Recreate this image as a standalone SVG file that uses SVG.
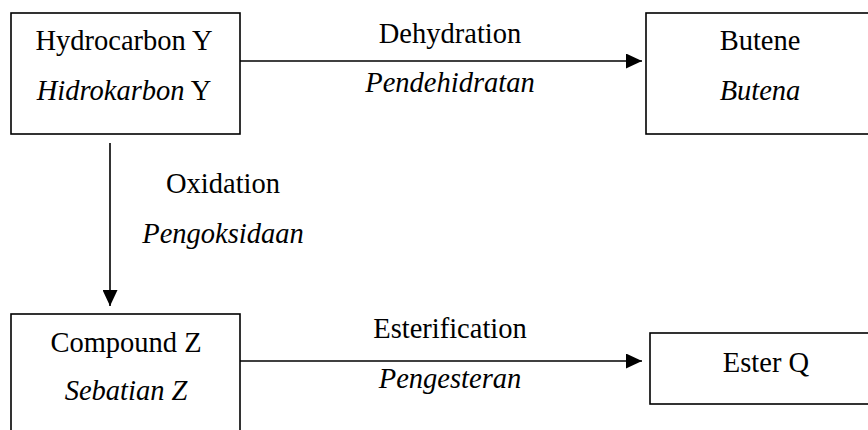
<svg xmlns="http://www.w3.org/2000/svg" width="868" height="430" viewBox="0 0 868 430">
<style>
.box{fill:#fff;stroke:#000;stroke-width:1.6}
.t{font-family:"Liberation Serif","Times New Roman",serif;font-size:28.5px;fill:#000;text-anchor:middle}
.i{font-style:italic}
.c{stroke:#000;stroke-width:1.6;fill:none}
</style>
<defs>
<marker id="ah" markerUnits="userSpaceOnUse" markerWidth="16" markerHeight="15" refX="16" refY="7.5" orient="auto">
<path d="M0,0 L16,7.5 L0,15 z" fill="#000"/>
</marker>
</defs>
<rect width="868" height="430" fill="#fff"/>
<g id="connectors">
<line class="c" x1="240" y1="61" x2="642" y2="61" marker-end="url(#ah)"/>
<line class="c" x1="110" y1="143" x2="110" y2="306" marker-end="url(#ah)"/>
<line class="c" x1="240" y1="361" x2="642" y2="361" marker-end="url(#ah)"/>
<text class="t" x="450" y="43">Dehydration</text>
<text class="t i" x="450" y="92">Pendehidratan</text>
<text class="t" x="223" y="193">Oxidation</text>
<text class="t i" x="223" y="243">Pengoksidaan</text>
<text class="t" x="450" y="338">Esterification</text>
<text class="t i" x="450" y="388">Pengesteran</text>
</g>
<g id="hydrocarbonY">
<rect class="box" x="11" y="13" width="229" height="121"/>
<text class="t" x="124" y="50">Hydrocarbon Y</text>
<text class="t" x="124" y="100"><tspan class="i">Hidrokarbon</tspan> Y</text>
</g>
<g id="butene">
<rect class="box" x="646" y="13" width="230" height="121"/>
<text class="t" x="760" y="50">Butene</text>
<text class="t i" x="760" y="100">Butena</text>
</g>
<g id="compoundZ">
<rect class="box" x="11" y="314" width="229" height="130"/>
<text class="t" x="126" y="352">Compound Z</text>
<text class="t i" x="126" y="400">Sebatian Z</text>
</g>
<g id="esterQ">
<rect class="box" x="650" y="333" width="232" height="71"/>
<text class="t" x="766" y="372">Ester Q</text>
</g>
</svg>
